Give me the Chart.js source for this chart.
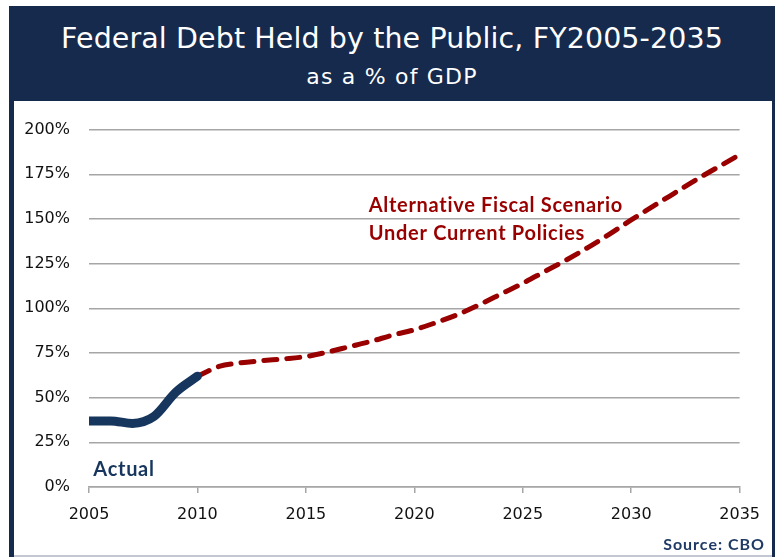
<!DOCTYPE html>
<html>
<head>
<meta charset="utf-8">
<script src="https://cdn.jsdelivr.net/npm/chart.js@4/dist/chart.umd.min.js"></script>
<style>
  body { margin: 0; background: #fff; width: 778px; height: 557px; overflow: hidden; }
  #frame { position: absolute; left: 9px; top: 6px; width: 766px; height: 551px; background: #152a4c; }
  #title { position: absolute; left: 0; top: 16px; width: 766px; text-align: center; color: #fff;
           font-family: "DejaVu Sans", sans-serif; font-size: 28.5px; letter-spacing: 0.1px; }
  #sub { position: absolute; left: 0; top: 58px; width: 766px; text-align: center; color: #fff;
         font-family: "DejaVu Sans", sans-serif; font-size: 22px; letter-spacing: 1.2px; }
  #plot { position: absolute; left: 14px; top: 101px; width: 758px; height: 454px; background: #fff; }
  #rule { position: absolute; left: 14px; top: 555px; width: 758px; height: 2px; background: #c3c7d3; }
</style>
</head>
<body>
<div id="frame">
  <div id="title">Federal Debt Held by the Public, FY2005-2035</div>
  <div id="sub">as a % of GDP</div>
</div>
<div id="plot"><canvas id="debtChart" width="758" height="454"></canvas></div>
<div id="rule"></div>
<script>
var years = [2005, 2006, 2007, 2008, 2009, 2010, 2011, 2012, 2013, 2014, 2015,
  2016, 2017, 2018, 2019, 2020, 2021, 2022, 2023, 2024, 2025,
  2026, 2027, 2028, 2029, 2030, 2031, 2032, 2033, 2034, 2035];
var actual = [37, 37, 35.6, 39.5, 53, 62];
var alternative = [null, null, null, null, null, 62, 67.5, 69.5, 70.7, 71.7, 73,
  75.5, 78.5, 81.5, 85, 88, 92, 96.5, 102, 108, 114,
  120.5, 127, 134, 141.5, 149.5, 157, 164.5, 172, 179, 186];
var yTicks = [0, 25, 50, 75, 100, 125, 150, 175, 200];

var navy = '#17365d';
var darkRed = '#990000';

function points(values) {
  var out = [];
  values.forEach(function (v, i) {
    if (v !== null) out.push({ x: years[i], y: v });
  });
  return out;
}

// text notes placed in data space
var notes = [
  { text: 'Actual', x: 2005.2, y: 10, color: navy },
  { text: 'Alternative Fiscal Scenario', x: 2017.9, y: 157.5, color: darkRed },
  { text: 'Under Current Policies', x: 2017.9, y: 142, color: darkRed }
];

var notesPlugin = {
  id: 'notes',
  afterDatasetsDraw: function (chart) {
    var ctx = chart.ctx;
    var xs = chart.scales.x, ys = chart.scales.y;
    ctx.save();
    ctx.font = 'bold 20px Lato, sans-serif';
    ctx.letterSpacing = '0.7px';
    ctx.textBaseline = 'middle';
    ctx.textAlign = 'left';
    notes.forEach(function (n) {
      ctx.fillStyle = n.color;
      ctx.fillText(n.text, xs.getPixelForValue(n.x), ys.getPixelForValue(n.y));
    });
    ctx.font = 'bold 16px Lato, sans-serif';
    ctx.letterSpacing = '1px';
    ctx.fillStyle = '#1f3a64';
    ctx.textAlign = 'right';
    ctx.fillText('Source: CBO', chart.width - 7, chart.height - 10);
    ctx.restore();
  }
};

var debtChart = new Chart('debtChart', {
  type: 'line',
  data: {
    datasets: [{
      label: 'Actual',
      data: points(actual),
      borderColor: navy,
      borderWidth: 9,
      borderCapStyle: 'round',
      borderJoinStyle: 'round',
      pointRadius: 0,
      cubicInterpolationMode: 'monotone',
      order: 1
    }, {
      label: 'Alternative Fiscal Scenario',
      data: points(alternative),
      borderColor: darkRed,
      borderWidth: 5,
      borderDash: [13, 10],
      borderCapStyle: 'round',
      pointRadius: 0,
      cubicInterpolationMode: 'monotone',
      order: 2
    }]
  },
  options: {
    responsive: false,
    animation: false,
    layout: { padding: { top: 25, right: 29, left: 0, bottom: 0 } },
    plugins: {
      legend: { display: false },
      tooltip: { enabled: false }
    },
    scales: {
      x: {
        type: 'linear',
        min: years[0],
        max: years[years.length - 1],
        afterFit: function (scale) { scale.height = 68; },
        grid: { drawOnChartArea: false, drawTicks: true, tickLength: 6, color: '#a6a6a6', lineWidth: 1.5 },
        border: { color: '#a6a6a6', width: 1.5 },
        ticks: {
          stepSize: 5,
          padding: 12,
          color: '#111',
          font: { family: 'DejaVu Sans', size: 16 },
          callback: function (v) { return String(v); }
        }
      },
      y: {
        min: 0,
        max: 200,
        afterFit: function (scale) { scale.width = 75; },
        afterBuildTicks: function (scale) { scale.ticks = yTicks.map(function (v) { return { value: v }; }); },
        grid: { drawTicks: false, color: '#a6a6a6', lineWidth: 1.5 },
        border: { display: false },
        ticks: {
          padding: 19,
          color: '#111',
          font: { family: 'DejaVu Sans', size: 16 },
          callback: function (v) { return v + '%'; }
        }
      }
    }
  },
  plugins: [notesPlugin]
});
</script>
</body>
</html>
